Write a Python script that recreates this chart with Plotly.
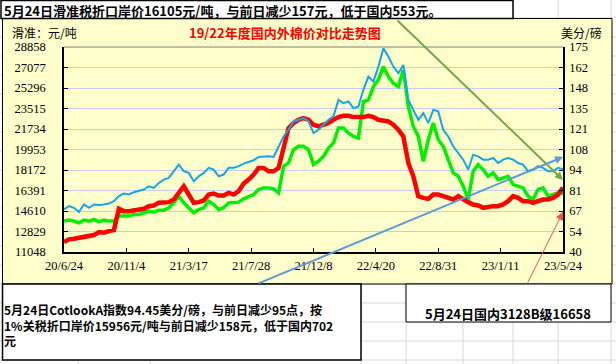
import plotly.graph_objects as go
import pandas as pd

W, H = 616, 364
START, END = "2020-06-24", "2023-05-24"

# 国内3128B (元/吨, left axis)
red_domestic = [11914, 12145, 12203, 12289, 12376, 12434, 12520, 12780, 12722, 12866, 12953,
                14800, 14598, 14598, 14685, 14743, 14800, 15031, 15089, 15320, 15378, 15378, 15609,
                16186, 16763, 16042, 15320, 15378, 15522, 16042, 16128, 15955, 15955, 16186, 16042,
                16330, 16994, 17341, 17774, 18351,
                18351, 18062, 18062, 18351, 20083, 21815, 22248, 22536, 22681, 22536, 22103, 21959,
                22103, 22248, 22536, 22767, 22883, 22883, 22767, 22767, 22767, 22883, 22767, 22536,
                22479, 22392, 22103, 21670, 21093, 18784, 17629, 15897, 15753, 15666,
                16042, 16042, 15897, 15753, 15609, 15897, 15609, 15378, 15176, 15089, 14887, 14974,
                15031, 15031, 15176, 15464, 15897, 15753, 15464, 15464, 15320, 15464, 15609, 15609,
                15753, 16042, 16658]

# 滑准税折口岸价 (元/吨, left axis)
green_sliding = [13732, 13819, 13732, 13588, 13819, 13732, 13877, 13675, 13819, 13732, 13732,
                 14165, 14165, 14165, 14310, 14310, 14454, 14598, 14512, 14685, 14685, 14887, 15320,
                 15897, 15320, 14887, 14454, 14743, 14887, 15464, 15176, 14743, 14887, 15320, 15320,
                 15378, 15666, 15897, 16042, 16475,
                 16619, 16619, 16532, 16186, 18495, 18784, 19938, 20227, 20227, 19938, 18639, 18928,
                 19361, 20083, 20516, 21815, 21815, 21382, 21093, 20949, 24124, 24268, 25423, 26000,
                 27155, 26289, 25711, 25423, 26866, 23691, 21959, 21093, 18928, 20804,
                 22248, 20804, 20227, 19072, 17918, 17629, 16763, 15609, 18062, 18639, 18207, 17629,
                 17918, 17341, 17485, 17629, 16908, 16763, 16619, 15897, 15609, 16475, 16619, 15897,
                 16042, 16186, 16105]

# Cotlook A (美分/磅, right axis)
blue_cotlook = [68.0, 70.2, 69.1, 66.3, 71.3, 69.1, 71.3, 70.9, 71.3, 71.9, 73.5, 76.8, 78.5, 77.9,
                79.4, 80.0, 81.1, 83.3, 82.2, 85.5, 87.7, 88.8, 93.2, 97.5, 93.2, 92.1, 86.6, 89.9,
                92.1, 95.4, 94.3, 89.9, 91.0, 95.4, 95.4, 96.5, 98.2, 99.1, 100.4, 102.6,
                103.0, 103.0, 102.6, 109.6, 116.1, 120.5, 126.0, 127.1, 128.2, 126.0, 118.3, 120.5,
                123.8, 127.1, 129.3, 140.2, 138.0, 139.1, 134.7, 135.8, 146.8, 155.5, 152.2, 162.1,
                174.1, 168.7, 162.1, 157.7, 163.2, 140.2, 133.6, 127.1, 131.5, 124.9,
                133.6, 132.6, 120.5, 116.1, 109.6, 105.2, 100.8, 94.3, 104.1, 103.0, 100.8, 100.8,
                101.9, 98.6, 100.8, 101.9, 100.8, 98.6, 97.5, 93.2, 94.3, 96.5, 95.4, 93.2, 93.2,
                95.4, 94.45]

dates = pd.date_range(START, END, periods=len(red_domestic))

x_tickvals = ["2020-06-24", "2020-11-04", "2021-03-17", "2021-07-28", "2021-12-08",
              "2022-04-20", "2022-08-31", "2023-01-11", "2023-05-24"]
x_ticktext = ["20/6/24", "20/11/4", "21/3/17", "21/7/28", "21/12/8",
              "22/4/20", "22/8/31", "23/1/11", "23/5/24"]
left_tickvals = [11048, 12829, 14610, 16391, 18172, 19953, 21734, 23515, 25296, 27077, 28858]
left_ticktext = [str(v) for v in left_tickvals]
right_tickvals = [40, 53.5, 67, 80.5, 94, 107.5, 121, 134.5, 148, 161.5, 175]
right_ticktext = ["40", "54", "67", "81", "94", "108", "121", "135", "148", "162", "175"]

title_text = "19/22年度国内外棉价对比走势图"
left_unit = "滑准：元/吨"
right_unit = "美分/磅"
top_note = "5月24日滑准税折口岸价16105元/吨，与前日减少157元，低于国内553元。"
bottom_note = ["5月24日CotlookA指数94.45美分/磅，与前日减少95点，按",
               "1%关税折口岸价15956元/吨与前日减少158元，低于国内702",
               "元"]
right_note = "5月24日国内3128B级16658"

CJK = "Noto Sans CJK SC"
NUM = "Liberation Serif"

# plot area in pixels
PL, PR, PT, PB = 64, 563, 47, 252


def fx(x):
    # pixel x -> paper x (paper = plot area)
    return (x - PL) / (PR - PL)


def fy(y):
    # pixel y (from top) -> paper y
    return (PB - y) / (PB - PT)


fig = go.Figure()
fig.add_trace(go.Scatter(x=dates, y=blue_cotlook, yaxis="y2", mode="lines",
                         line=dict(color="#14A6E6", width=2), showlegend=False))
fig.add_trace(go.Scatter(x=dates, y=green_sliding, mode="lines",
                         line=dict(color="#00F000", width=3.5), showlegend=False))
fig.add_trace(go.Scatter(x=dates, y=red_domestic, mode="lines",
                         line=dict(color="#FF0000", width=4.5), showlegend=False))

shapes = []
grid_col = "#D8D8D8"
for k in range(20):
    yy = 18 + 19 * k
    shapes.append(dict(type="line", xref="paper", yref="paper", x0=fx(0), x1=fx(W), y0=fy(yy), y1=fy(yy),
                       line=dict(color=grid_col, width=1), layer="below"))
for xx in [78, 150, 361, 406, 463, 513, 558, 611]:
    shapes.append(dict(type="line", xref="paper", yref="paper", x0=fx(xx), x1=fx(xx), y0=fy(0), y1=fy(H),
                       line=dict(color=grid_col, width=1), layer="below"))
# chart area
shapes.append(dict(type="rect", xref="paper", yref="paper", x0=fx(2.5), x1=fx(612), y0=fy(18.5), y1=fy(284),
                   fillcolor="#FFFFCC", line=dict(color="black", width=1), layer="below"))
# top text box
shapes.append(dict(type="rect", xref="paper", yref="paper", x0=fx(1), x1=fx(513), y0=fy(0.5), y1=fy(18.5),
                   fillcolor="white", line=dict(color="black", width=1.5), layer="below"))
# bottom-left box
shapes.append(dict(type="rect", xref="paper", yref="paper", x0=fx(2.5), x1=fx(361), y0=fy(284), y1=fy(360),
                   fillcolor="white", line=dict(color="black", width=1.5), layer="below"))
# bottom-right box
shapes.append(dict(type="rect", xref="paper", yref="paper", x0=fx(406), x1=fx(611), y0=fy(284), y1=fy(322),
                   fillcolor="white", line=dict(color="black", width=1), layer="below"))
# grey top frame of plot area
shapes.append(dict(type="line", xref="paper", yref="paper", x0=0, x1=1, y0=1, y1=1,
                   line=dict(color="#808080", width=1), layer="below"))

annotations = [
    dict(text="<b>" + top_note + "</b>", x=fx(2), y=fy(10), xref="paper", yref="paper",
         xanchor="left", yanchor="middle", showarrow=False, font=dict(family=CJK, size=13, color="black")),
    dict(text=left_unit, x=fx(10), y=fy(33), xref="paper", yref="paper",
         xanchor="left", yanchor="middle", showarrow=False, font=dict(family=CJK, size=12, color="black")),
    dict(text="<b>" + title_text + "</b>", x=fx(285), y=fy(33), xref="paper", yref="paper",
         xanchor="center", yanchor="middle", showarrow=False, font=dict(family=CJK, size=13, color="#FF0000")),
    dict(text=right_unit, x=fx(581), y=fy(33), xref="paper", yref="paper",
         xanchor="center", yanchor="middle", showarrow=False, font=dict(family=CJK, size=12, color="black")),
    dict(text="<b>" + right_note + "</b>", x=fx(508), y=fy(313), xref="paper", yref="paper",
         xanchor="center", yanchor="middle", showarrow=False, font=dict(family=CJK, size=13, color="black")),
    dict(text="<b>" + "<br>".join(bottom_note) + "</b>", x=fx(2), y=fy(299), xref="paper", yref="paper",
         xanchor="left", yanchor="top", align="left", showarrow=False,
         font=dict(family=CJK, size=12, color="black")),
]


# pointer arrows
def arrow(tail, head, color, width, size):
    return dict(text="", x=fx(head[0]), y=fy(head[1]), xref="paper", yref="paper",
                ax=tail[0] - head[0], ay=tail[1] - head[1], axref="pixel", ayref="pixel",
                showarrow=True, arrowhead=2, arrowsize=size, arrowwidth=width, arrowcolor=color,
                standoff=0, startstandoff=0)


annotations.append(arrow((396, 19), (563, 180), "#72A84A", 2, 0.8))
annotations.append(arrow((257, 284), (563, 157), "#5B9BD5", 2, 0.8))
annotations.append(arrow((527, 284), (563, 212), "#F05050", 1, 1.6))

fig.update_layout(
    width=W, height=H,
    margin=dict(l=PL, r=W - PR, t=PT, b=H - PB, pad=0, autoexpand=False),
    paper_bgcolor="white", plot_bgcolor="rgba(0,0,0,0)",
    shapes=shapes, annotations=annotations, showlegend=False,
    xaxis=dict(type="date", range=[START, END], tickvals=x_tickvals, ticktext=x_ticktext,
               ticks="inside", ticklen=4, tickcolor="black", showgrid=False, zeroline=False,
               showline=True, linecolor="black", linewidth=1.5, automargin=False,
               tickfont=dict(family=NUM, size=12.5, color="black"), ticklabelstandoff=1),
    yaxis=dict(range=[11048, 28858], tickvals=left_tickvals, ticktext=left_ticktext,
               ticks="inside", ticklen=4, tickcolor="black", automargin=False,
               showgrid=True, gridcolor="#C6CDEE", gridwidth=1, zeroline=False,
               showline=True, linecolor="black", linewidth=1.5,
               tickfont=dict(family=NUM, size=12.5, color="black"), ticklabelstandoff=14),
    yaxis2=dict(range=[40, 175], tickvals=right_tickvals, ticktext=right_ticktext, overlaying="y",
                side="right", ticks="inside", ticklen=4, tickcolor="black", showgrid=False, zeroline=False,
                showline=True, linecolor="black", linewidth=1.5, automargin=False,
                tickfont=dict(family=NUM, size=12.5, color="black"), ticklabelstandoff=2),
)

fig.write_html("out.html", config={"displayModeBar": False},
               post_script="document.body.style.margin='0px';document.body.style.padding='0px';")
